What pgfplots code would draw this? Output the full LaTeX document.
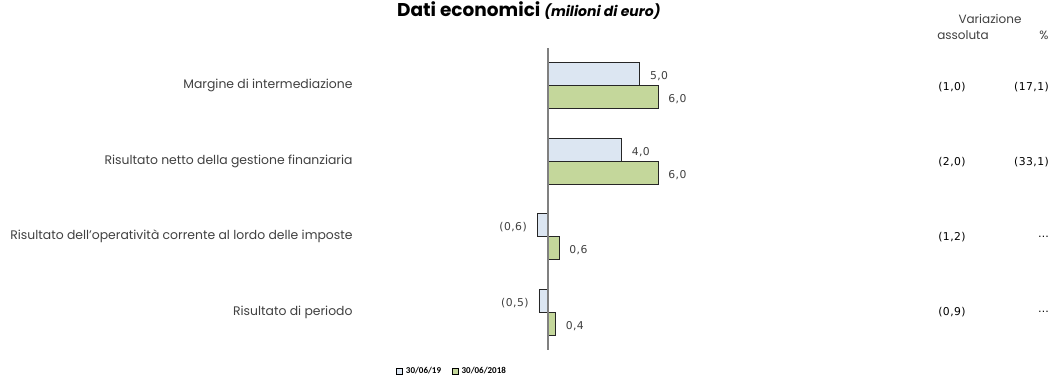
\documentclass[border=0pt]{standalone}
\usepackage{pgfplots}
\pgfplotsset{compat=1.18}
\usepackage{fontspec}
\setmainfont{Poppins}
\newfontfamily\legfont{Carlito}
\newfontfamily\numfont{DejaVu Sans}[LetterSpace=4]
\definecolor{lightbar}{HTML}{DCE6F2}
\definecolor{greenbar}{HTML}{C4D79B}
\definecolor{txt}{HTML}{404040}
\begin{document}
\begin{tikzpicture}[font=\fontsize{12}{14}\selectfont\color{txt}]
\path[use as bounding box] (-352pt,-28pt) rectangle (701pt,350pt);
\begin{axis}[
  at={(0,0)}, anchor=south west,
  scale only axis, width=701pt, height=302pt,
  xmin=-10.7, xmax=27.55,
  ymin=-0.5, ymax=3.5, y dir=reverse,
  xbar, bar width=23pt,
  axis line style={draw=none},
  tick style={draw=none},
  xtick=\empty,
  ytick={0,1,2,3},
  yticklabels={Margine di intermediazione,Risultato netto della gestione finanziaria,Risultato dell'operatività corrente al lordo delle imposte,Risultato di periodo},
  yticklabel style={anchor=east, inner sep=0pt, xshift=5pt, font=\fontsize{12.4}{14}\selectfont\color{txt}},
  point meta=explicit symbolic,
  nodes near coords,
  every node near coord/.append style={font=\numfont\fontsize{10.8}{12}\selectfont\color{txt}, inner sep=0pt},
  legend style={draw=none, at={(0.063,-0.069)}, anchor=west, legend columns=2, font=\legfont\bfseries\fontsize{9}{10}\selectfont, /tikz/every even column/.append style={column sep=9pt}, inner sep=0pt, /tikz/every odd column/.append style={column sep=1pt}},
  legend image code/.code={\draw[#1, draw=black, line width=0.6pt] (0pt,-3pt) rectangle (6pt,3pt);},
  clip=false,
]
\addplot[fill=lightbar, draw=black!85, line width=0.7pt, bar shift=11.5pt,
  every node near coord/.append style={anchor=west, xshift=10pt, yshift=-2pt}] coordinates {
  (5.0,0) [5,0]
  (4.0,1) [4,0]
};
\addplot[fill=greenbar, draw=black!85, line width=0.7pt, bar shift=-11.5pt,
  every node near coord/.append style={anchor=west, xshift=10pt, yshift=-2pt}] coordinates {
  (6.0,0) [6,0]
  (6.0,1) [6,0]
  (0.6,2) [0,6]
  (0.4,3) [0,4]
};
\addplot[forget plot, fill=lightbar, draw=black!85, line width=0.7pt, bar shift=11.5pt,
  every node near coord/.append style={anchor=east, xshift=-10pt, yshift=-2pt}] coordinates {
  (-0.6,2) [(0,6)]
  (-0.5,3) [(0,5)]
};
\legend{30/06/19,30/06/2018}
\draw[black!50, line width=1.6pt] (axis cs:0,-0.5) -- (axis cs:0,3.5);
\end{axis}
% right columns (pixel coords relative to axis SW: x-352, 350-y)
\foreach \y/\a/\p in {87/{(1,0)}/{(17,1)}, 162/{(2,0)}/{(33,1)}, 237/{(1,2)}/{\dots}, 312/{(0,9)}/{\dots}}{
  \node[font=\numfont\fontsize{10.8}{12}\selectfont] at (952pt-352pt, 350pt-\y pt) {\a};
  \node[anchor=east, inner sep=0pt, font=\numfont\fontsize{10.8}{12}\selectfont] at (1049pt-352pt, 350pt-\y pt) {\p};
}
\node at (990pt-352pt, 350pt-19pt) {Variazione};
\node at (963pt-352pt, 350pt-35pt) {assoluta};
\node at (1044pt-352pt, 350pt-35pt) {\%};
\node[anchor=base west, inner sep=0pt, color=black] at (397pt-352pt, 350pt-17pt) {\fontsize{18.5}{20}\selectfont\bfseries Dati economici \fontsize{14}{16}\selectfont\itshape(milioni di euro)};
\end{tikzpicture}
\end{document}
